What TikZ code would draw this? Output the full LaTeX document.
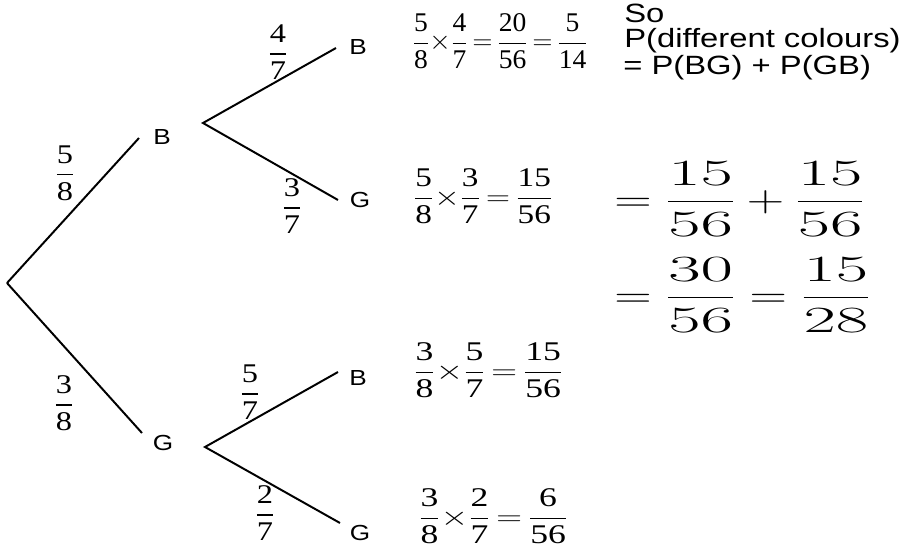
\RequirePackage{fix-cm}
\documentclass[tikz,border=0pt]{standalone}
\usepackage[no-math]{fontspec}
\setmainfont{Liberation Serif}
\setsansfont{Liberation Sans}
\usepackage{amsmath}
\usepackage{graphicx}
\usetikzlibrary{positioning}
\newcommand{\stretchx}[2][1.2]{\scalebox{#1}[1]{#2}}
\newcommand{\frx}[2]{\dfrac{\text{#1}}{\text{#2}}}
\newcommand{\bigdg}[1]{\scalebox{1.36}[1]{$#1$}}
\newcommand{\bfr}[2]{\dfrac{\bigdg{#1}}{\bigdg{#2}}}
\tikzset{
  branch/.style={line width=1.4pt},
  outcome/.style={font=\fontsize{15.5}{18}\sffamily, inner sep=0pt},
  prob/.style={font=\fontsize{19.2}{22}\selectfont, inner sep=0pt},
  product/.style={font=\fontsize{19.2}{22}\selectfont, inner sep=0pt, anchor=base west},
  note/.style={font=\fontsize{18.8}{22}\sffamily, inner sep=0pt, anchor=base west},
  total/.style={font=\fontsize{26.3}{30}\selectfont, inner sep=0pt, anchor=base west},
}

\begin{document}
\begin{tikzpicture}[x=0.025cm, y=-0.025cm]
  \useasboundingbox (0,0) rectangle (902,552);
  % branch points
  \coordinate (o) at (7,283);
  \coordinate (b1) at (139,138);
  \coordinate (b2) at (203,123);
  \coordinate (g1) at (142,433);
  \coordinate (g2) at (205,447);
  \coordinate (bb) at (336,48);
  \coordinate (bg) at (338,200);
  \coordinate (gb) at (338,372);
  \coordinate (gg) at (340,523);
  \draw[branch] (o) -- (b1);
  \draw[branch] (o) -- (g1);
  \draw[branch] (bb) -- (b2) -- (bg);
  \draw[branch] (gb) -- (g2) -- (gg);
  % outcomes
  \node[outcome] (nb) at (162,137) {\stretchx{B}};
  \node[outcome] (ng) at (163,443) {\stretchx{G}};
  \node[outcome] (nbb) at (358,47) {\stretchx{B}};
  \node[outcome] (nbg) at (360,200) {\stretchx{G}};
  \node[outcome] (ngb) at (358,378) {\stretchx{B}};
  \node[outcome] (ngg) at (360,533) {\stretchx{G}};
  % branch probabilities
  \node[prob] (pb) at (65,173) {\stretchx{$\frx{5}{8}$}};
  \node[prob] (pg) at (64,403) {\stretchx{$\frx{3}{8}$}};
  \node[prob] (pbb) at (278,52) {\stretchx{$\frx{4}{7}$}};
  \node[prob] (pbg) at (292,206) {\stretchx{$\frx{3}{7}$}};
  \node[prob] (pgb) at (250,392) {\stretchx{$\frx{5}{7}$}};
  \node[prob] (pgg) at (265,513) {\stretchx{$\frx{2}{7}$}};
  % products
  \node[product] (ebb) at (412,50) {\stretchx[1.02]{$\frx{5}{8}{\times}\frx{4}{7}\,{=}\,\frx{20}{56}\,{=}\,\frx{5}{14}$}};
  \node[product] (ebg) at (413,205) {\stretchx[1.23]{$\frx{5}{8}{\times}\frx{3}{7}\,{=}\,\frx{15}{56}$}};
  \node[product] (egb) at (413,379) {\stretchx[1.32]{$\frx{3}{8}{\times}\frx{5}{7}\,{=}\,\frx{15}{56}$}};
  \node[product] (egg) at (418,525) {\stretchx[1.32]{$\frx{3}{8}{\times}\frx{2}{7}\,{=}\,\frx{6}{56}$}};
  % answer
  \node[note] (so) at (624,23) {\stretchx[1.24]{So}};
  \node[note] (pdiff) at (624,48) {\stretchx[1.24]{P(different colours)}};
  \node[note] (psum) at (623,74) {\stretchx[1.24]{= P(BG) + P(GB)}};
  \node[total] (sum) at (614,211) {\stretchx[1.4]{$=\bfr{15}{56}+\bfr{15}{56}$}};
  \node[total] (res) at (614,307) {\stretchx[1.4]{$=\bfr{30}{56}=\bfr{15}{28}$}};
\end{tikzpicture}
\end{document}
